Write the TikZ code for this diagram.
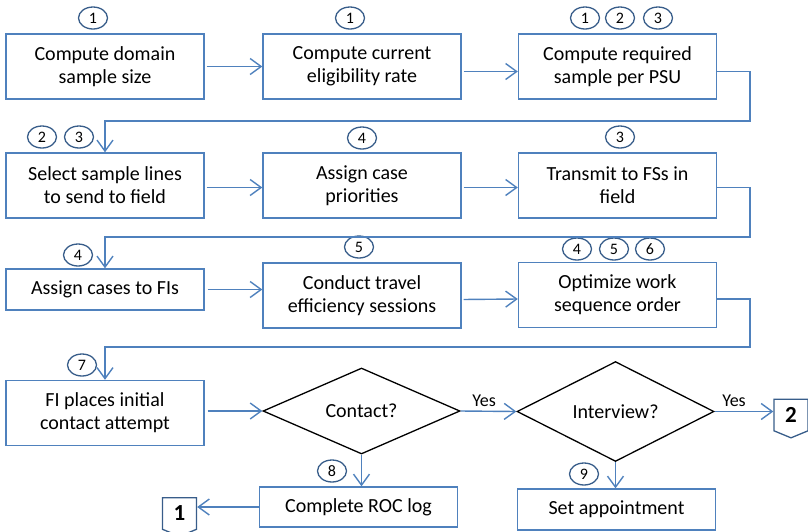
\documentclass[tikz,border=0pt]{standalone}
\usepackage{fontspec}
\setmainfont{Carlito}
\usetikzlibrary{arrows.meta,shapes.geometric,shapes.symbols}
\definecolor{boxblue}{RGB}{79,129,189}
\definecolor{ringblue}{RGB}{56,93,138}
\tikzset{
  stepbox/.style={draw=boxblue, line width=1.4pt, minimum width=198pt, minimum height=65pt,
    inner sep=0pt, align=center, font=\fontsize{20}{23}\selectfont},
  flatbox/.style={stepbox, minimum height=41pt},
  decide/.style={draw=black, line width=1.3pt, diamond, inner sep=0pt, minimum width=197pt,
    minimum height=86pt, font=\fontsize{20}{23}\selectfont},
  ring/.style={draw=ringblue, line width=1.3pt, ellipse, inner sep=0pt, minimum width=29pt,
    minimum height=22pt, font=\fontsize{16}{16}\selectfont},
  offpage/.style={draw=ringblue, line width=1.3pt, fill=white, signal, signal to=south,
    signal pointer angle=135, inner sep=0pt, minimum width=34pt, minimum height=34pt,
    font=\fontsize{23}{23}\selectfont\bfseries},
  flow/.style={draw=boxblue, line width=1.4pt, -{Straight Barb[length=11pt,width=16pt]}},
  yes/.style={font=\fontsize{18}{18}\selectfont}
}
\begin{document}
\begin{tikzpicture}[x=1pt, y=-1pt]
    \useasboundingbox (0,0) rectangle (808,531);
    % process boxes
    \node[stepbox] (domain) at (105,66.5) {Compute domain\\sample size};
    \node[stepbox] (elig) at (362,66.5) {Compute current\\eligibility rate};
    \node[stepbox] (persu) at (617.5,66.5) {Compute required\\sample per PSU};
    \node[stepbox] (select) at (105,185.5) {Select sample lines\\to send to field};
    \node[stepbox] (prior) at (362,185.5) {Assign case\\priorities};
    \node[stepbox] (transmit) at (617.5,185.5) {Transmit to FSs in\\field};
    \node[flatbox] (assign) at (105,289.5) {Assign cases to FIs};
    \node[stepbox] (travel) at (362,295.5) {Conduct travel\\efficiency sessions};
    \node[stepbox] (optim) at (617.5,295) {Optimize work\\sequence order};
    \node[stepbox] (place) at (105,413) {FI places initial\\contact attempt};
    \node[decide] (contact) at (361.5,411) {Contact?};
    \node[decide] (interview) at (615.5,411.5) {Interview?};
    \node[flatbox, minimum height=40pt] (roc) at (358.5,507) {Complete ROC log};
    \node[flatbox] (appt) at (616.5,509.5) {Set appointment};
    \node[offpage] (offa) at (179.5,513.5) {1};
    \node[offpage] (offb) at (791,415) {2};
    % step numbers
    \node[ring] (n1) at (93,18) {1};
    \node[ring] (n2) at (350,18) {1};
    \node[ring] (n3a) at (585,18) {1};
    \node[ring] (n3b) at (620,18) {2};
    \node[ring] (n3c) at (658,18) {3};
    \node[ring] (n4a) at (42,137) {2};
    \node[ring] (n4b) at (79,137) {3};
    \node[ring] (n5) at (362,138) {4};
    \node[ring] (n6) at (620,137) {3};
    \node[ring] (n7) at (78,255) {4};
    \node[ring] (n8) at (359,247) {5};
    \node[ring] (n9a) at (577,249) {4};
    \node[ring] (n9b) at (614,249) {5};
    \node[ring] (n9c) at (650,249) {6};
    \node[ring] (n10) at (82,365) {7};
    \node[ring] (n11) at (332,471) {8};
    \node[ring] (n12) at (584,474) {9};
    % turn points
    \coordinate (t1) at (750,121);
    \coordinate (t2) at (750,237);
    \coordinate (t3) at (750,347);
    % connectors
    \draw[flow, shorten <=2pt] (domain.east) -- (elig.west);
    \draw[flow, shorten <=2pt] ([yshift=-5pt]elig.east) -- ([yshift=-5pt]persu.west);
    \draw[flow] ([yshift=-5pt]persu.east) -| (t1) -| (select.north);
    \draw[flow, shorten <=2pt] ([yshift=-2pt]select.east) -- ([yshift=-2pt]prior.west);
    \draw[flow, shorten <=2pt] ([yshift=-2pt]prior.east) -- ([yshift=-2pt]transmit.west);
    \draw[flow] ([yshift=-2pt]transmit.east) -| (t2) -| (assign.north);
    \draw[flow, shorten <=3pt] (assign.east) -- (assign.east -| travel.west);
    \draw[flow, shorten <=2pt] ([yshift=-4pt]travel.east) -- ([yshift=-4pt]optim.west);
    \draw[flow] ([yshift=-4pt]optim.east) -| (t3) -| (place.north);
    \draw[flow, shorten <=3pt] (place.east |- contact.west) -- (contact.west);
    \draw[flow] (contact.east) -- (interview.west) node[yes, pos=0.42, above=1pt] {Yes};
    \draw[flow] (interview.east) -- (interview.east -| offb.west) node[yes, pos=0.33, above=1pt] {Yes};
    \draw[flow] (contact.south) -- (contact.south |- roc.north);
    \draw[flow] (interview.south) -- (interview.south |- appt.north);
    \draw[flow] (roc.west) -- (roc.west -| offa.east);
\end{tikzpicture}
\end{document}
